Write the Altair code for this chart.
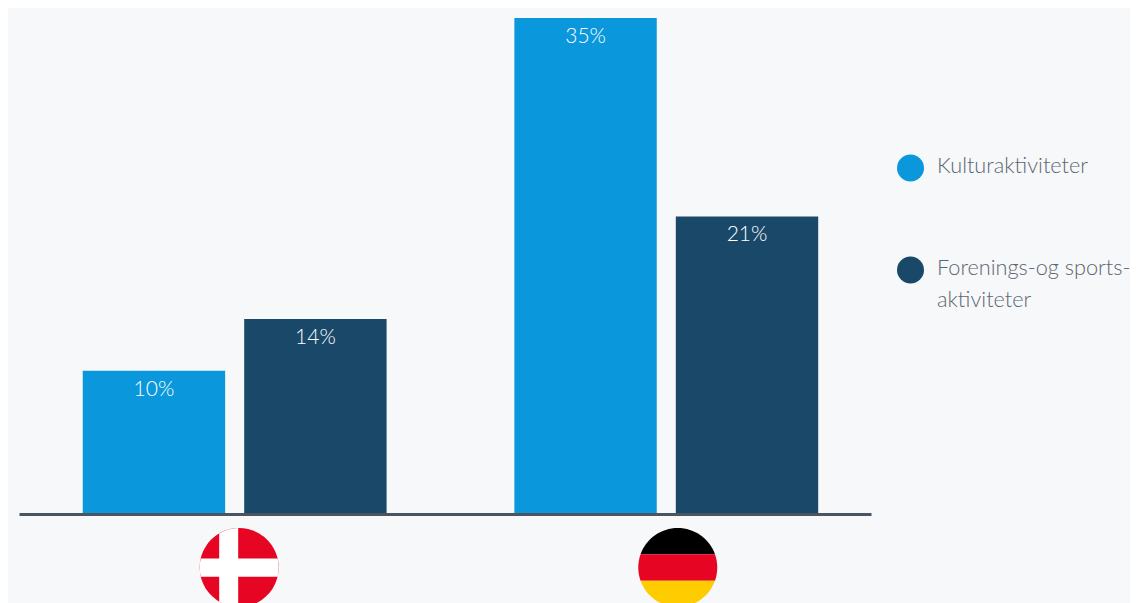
import altair as alt
import pandas as pd

countries = ["Danmark", "Tyskland"]
series = ["Kulturaktiviteter", "Forenings-og sports-\naktiviteter"]
colors = ["#0a97db", "#1a4869"]
c_col = ["Danmark", "Danmark", "Tyskland", "Tyskland"]
s_col = [series[0], series[1], series[0], series[1]]
values = [10.1, 13.76, 35, 21]
labels = ["10%", "14%", "35%", "21%"]

df = pd.DataFrame({"country": c_col, "series": s_col, "value": values, "label": labels})

x_scale = alt.Scale(domain=countries, paddingInner=0.296, paddingOuter=0.135, align=0.547)
y_scale = alt.Scale(domain=[0, 35.706], nice=False, zero=False)
x_off = alt.XOffset("series:N", scale=alt.Scale(domain=series, paddingInner=0.118, paddingOuter=0))
x_axis = alt.Axis(title=None, labels=False, ticks=False, domain=True, domainColor="#4a5560",
                  domainWidth=3, grid=False, zindex=1)

base_x = alt.X("country:N", scale=x_scale, sort=countries, axis=x_axis)
base_y = alt.Y("value:Q", scale=y_scale, axis=None)

bars = alt.Chart(df).mark_bar().encode(
    x=base_x, y=base_y, xOffset=x_off,
    color=alt.Color("series:N", scale=alt.Scale(domain=series, range=colors),
                    legend=alt.Legend(title=None, orient="none", legendX=878, legendY=146.5, symbolType="circle",
                                      symbolSize=729, symbolStrokeWidth=0, labelFontSize=21.7, labelFont="Lato",
                                      labelFontWeight=300, labelColor="#5b6670", labelLimit=300, labelOffset=13,
                                      rowPadding=75, padding=0,
                                      labelExpr="split(datum.label, '\\n')")),
)
texts = alt.Chart(df).mark_text(color="white", font="Lato", fontWeight=300, fontSize=21, dy=19, baseline="middle").encode(
    x=base_x, y=base_y, xOffset=x_off, text="label:N",
)

# Flags: vector pieces in unit-circle coordinates
DISC = "M-1,0A1,1 0 1 1 1,0A1,1 0 1 1 -1,0Z"
DK_H = "M-0.973,-0.23L0.973,-0.23A1,1 0 0 1 0.973,0.23L-0.973,0.23A1,1 0 0 1 -0.973,-0.23Z"
DK_V = "M-0.506,-0.8626A1,1 0 0 1 -0.025,-0.9997L-0.025,0.9997A1,1 0 0 1 -0.506,0.8626Z"
DE_T = "M-0.942,-0.335A1,1 0 0 1 0.942,-0.335Z"
DE_M = "M-0.942,-0.335L0.942,-0.335A1,1 0 0 1 0.942,0.335L-0.942,0.335A1,1 0 0 1 -0.942,-0.335Z"
DE_B = "M0.942,0.335A1,1 0 0 1 -0.942,0.335Z"
flag_pieces = [
    ("Danmark", DISC, "#e60523", 0.5148),
    ("Danmark", DK_H, "#ffffff", 0.5148),
    ("Danmark", DK_V, "#ffffff", 0.5148),
    ("Tyskland", DE_T, "#000000", 0.5378),
    ("Tyskland", DE_M, "#e60523", 0.5378),
    ("Tyskland", DE_B, "#ffcc00", 0.5378),
]
flag_y = -3.78
flags = [
    alt.Chart(pd.DataFrame({"country": [c], "fy": [flag_y]})).mark_point(
        shape=p, filled=True, opacity=1, color=col, size=6241, strokeWidth=0, clip=False
    ).encode(
        x=alt.X("country:N", scale=x_scale, sort=countries, axis=x_axis, bandPosition=bp),
        y=alt.Y("fy:Q", scale=y_scale, axis=None),
    )
    for c, p, col, bp in flag_pieces
]

chart = alt.layer(bars, texts, *flags).properties(
    width=852, height=506,
    autosize=alt.AutoSizeParams(type="none"),
    padding={"left": 11, "top": 0, "right": 259, "bottom": 89},
    background="#f7f8fa",
).configure(
    view=alt.ViewConfig(strokeWidth=0, stroke=None),
    style={"guide-label": {"lineHeight": 32, "dy": -2}},
)

chart.save("out.html", embed_options={"renderer": "svg", "actions": False})
